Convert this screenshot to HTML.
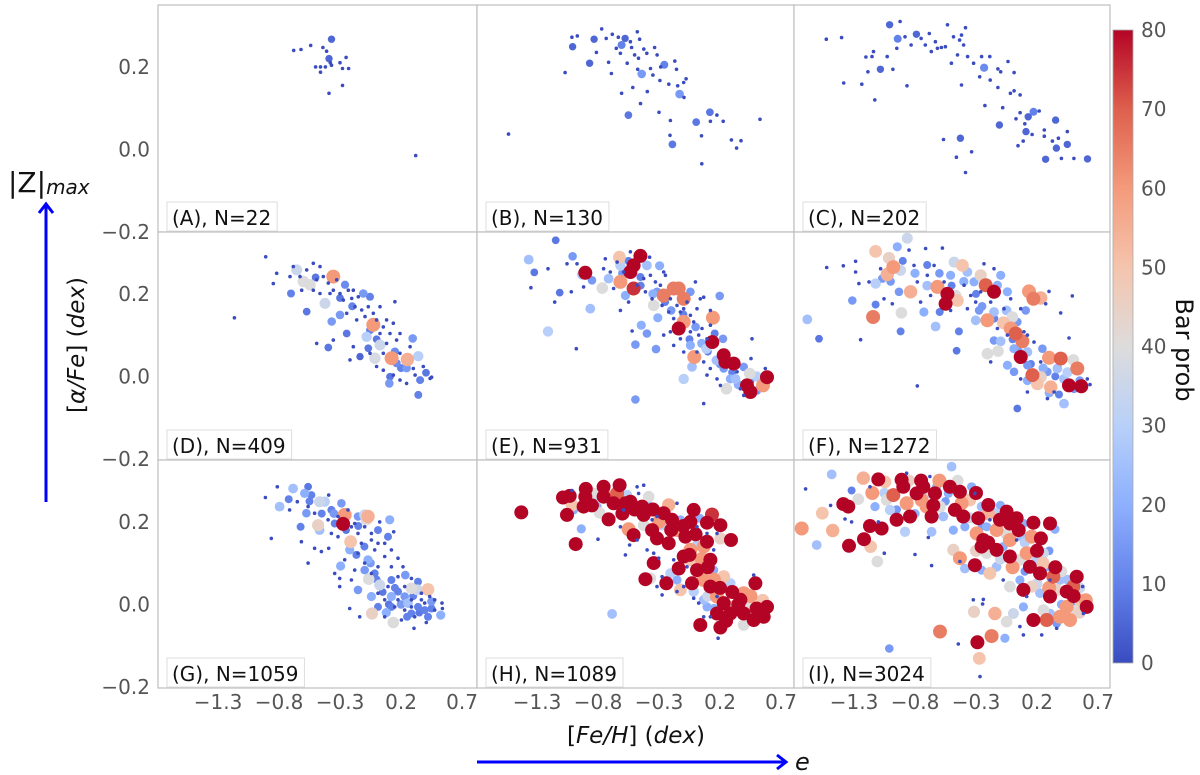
<!DOCTYPE html>
<html><head><meta charset="utf-8">
<style>
html,body{margin:0;padding:0;background:#fff;}
svg{display:block;font-family:"DejaVu Sans","Liberation Sans",sans-serif;}
.tick{fill:#555;font-size:20px;}
</style></head>
<body>
<svg id="fig" width="1200" height="775" viewBox="0 0 1200 775" xmlns="http://www.w3.org/2000/svg">
<defs>
<linearGradient id="cmap" x1="0" y1="1" x2="0" y2="0">
<stop offset="0" stop-color="rgb(58,76,192)"/>
<stop offset="0.125" stop-color="rgb(98,130,234)"/>
<stop offset="0.25" stop-color="rgb(141,176,254)"/>
<stop offset="0.375" stop-color="rgb(184,208,249)"/>
<stop offset="0.5" stop-color="rgb(221,220,220)"/>
<stop offset="0.625" stop-color="rgb(245,196,173)"/>
<stop offset="0.75" stop-color="rgb(244,154,123)"/>
<stop offset="0.875" stop-color="rgb(222,96,77)"/>
<stop offset="1" stop-color="rgb(180,4,38)"/>
</linearGradient>
</defs>
<g id="panels"></g>
<g id="axes"></g>
<g>
<rect x="1113" y="30" width="20" height="633" fill="url(#cmap)" stroke="#aaa" stroke-width="0.8"/>
<g id="cbticks"></g>
<text transform="translate(1176,350) rotate(90)" text-anchor="middle" font-size="24" fill="#111">Bar prob</text>
</g>
<text x="636" y="743" text-anchor="middle" font-size="23" fill="#111">[<tspan font-style="italic">Fe/H</tspan>] (<tspan font-style="italic">dex</tspan>)</text>
<text transform="translate(84,345) rotate(-90)" text-anchor="middle" font-size="23" fill="#111">[<tspan font-style="italic">α/Fe</tspan>] (<tspan font-style="italic">dex</tspan>)</text>
<g>
<line x1="477" y1="762" x2="784" y2="762" stroke="#0000ff" stroke-width="3"/>
<polyline points="777,755 786,762 777,769" fill="none" stroke="#0000ff" stroke-width="3"/>
<text x="795" y="770" font-size="24" font-style="italic" fill="#111">e</text>
</g>
<g>
<line x1="46" y1="502" x2="46" y2="206" stroke="#0000ff" stroke-width="3"/>
<polyline points="39,213 46,204 53,213" fill="none" stroke="#0000ff" stroke-width="3"/>
<text x="8" y="192" font-size="28" fill="#111">|Z|<tspan font-size="20" font-style="italic" dy="2">max</tspan></text>
</g>
</svg>
<script>
const xTickValues = [-1.3, -0.8, -0.3, 0.2, 0.7];
const xTickLabels = ["\u22121.3", "\u22120.8", "\u22120.3", "0.2", "0.7"];
const yTickValues = [0.2, 0.0, -0.2];
const yTickLabels = ["0.2", "0.0", "\u22120.2"];
const cbTickValues = [0, 10, 20, 30, 40, 50, 60, 70, 80];
const panelTitles = ["(A), N=22","(B), N=130","(C), N=202","(D), N=409","(E), N=931","(F), N=1272","(G), N=1059","(H), N=1089","(I), N=3024"];

const pointsA = [[-0.37,0.267,5],[-0.68,0.24,0],[-0.62,0.242,0],[-0.54,0.252,0],[-0.44,0.247,0],[-0.41,0.238,0],[-0.39,0.22,5],[-0.38,0.21,0],[-0.30,0.21,0],[-0.25,0.223,0],[-0.50,0.20,0],[-0.46,0.20,0],[-0.46,0.187,0],[-0.42,0.20,0],[-0.37,0.204,0],[-0.28,0.196,0],[-0.23,0.196,0],[-0.28,0.155,0],[-0.39,0.136,0],[0.32,-0.015,0]];

const pointsB = [[-1.008,0.249,5],[-0.97,0.275,0],[-1.014,0.272,0],[-1.07,0.186,0],[-1.534,0.037,0],[-0.869,0.209,5],[-0.832,0.267,5],[-0.77,0.292,0],[-0.813,0.235,0],[-0.713,0.211,0],[-0.69,0.184,0],[-0.607,0.253,10],[-0.578,0.269,5],[-0.634,0.272,0],[-0.683,0.279,0],[-0.617,0.233,0],[-0.561,0.209,0],[-0.525,0.247,0],[-0.478,0.285,0],[-0.459,0.267,0],[-0.425,0.243,0],[-0.468,0.221,0],[-0.442,0.183,15],[-0.475,0.194,0],[-0.35,0.18,0],[-0.336,0.247,0],[-0.316,0.229,0],[-0.257,0.205,10],[-0.171,0.214,0],[-0.157,0.194,0],[-0.515,0.15,0],[-0.607,0.136,0],[-0.396,0.14,0],[-0.452,0.111,0],[-0.293,0.167,0],[-0.22,0.158,0],[-0.147,0.154,0],[-0.098,0.162,0],[-0.078,0.171,0],[-0.131,0.134,15],[-0.095,0.126,0],[-0.551,0.083,8],[-0.3,0.09,0],[-0.207,0.07,0],[-0.21,0.034,0],[-0.19,0.012,8],[0.005,0.066,8],[0.117,0.09,8],[0.174,0.083,0],[0.121,0.068,0],[0.226,0.068,0],[0.048,0.033,0],[0.051,-0.035,0],[0.293,0.023,0],[0.372,0.021,0],[0.336,0.003,0],[0.528,0.073,0],[-0.733,0.269,0],[-0.65,0.245,0],[-0.5,0.229,0],[-0.40,0.233,0],[-0.37,0.196,0],[-0.286,0.2,0],[-0.535,0.261,0]];

const pointsC = [[-1.527,0.267,0],[-1.402,0.271,0],[-1.385,0.161,0],[-1.236,0.158,0],[-1.13,0.12,0],[-1.203,0.224,0],[-1.153,0.225,0],[-1.14,0.237,0],[-1.186,0.188,0],[-1.084,0.194,5],[-1.028,0.225,0],[-0.981,0.194,0],[-1.008,0.302,5],[-0.922,0.31,0],[-0.942,0.268,10],[-0.949,0.245,0],[-0.866,0.154,0],[-0.789,0.279,5],[-0.75,0.269,0],[-0.716,0.253,0],[-0.683,0.281,0],[-0.633,0.261,0],[-0.584,0.247,0],[-0.534,0.302,0],[-0.551,0.249,0],[-0.485,0.273,0],[-0.419,0.277,0],[-0.386,0.295,0],[-0.402,0.253,0],[-0.452,0.229,0],[-0.502,0.209,0],[-0.369,0.225,0],[-0.32,0.209,0],[-0.254,0.225,0],[-0.234,0.198,12],[-0.27,0.176,0],[-0.419,0.156,0],[-0.187,0.225,0],[-0.121,0.195,0],[-0.098,0.188,0],[-0.184,0.168,0],[-0.038,0.213,0],[0.012,0.186,0],[-0.121,0.15,0],[-0.018,0.136,0],[0.012,0.142,0],[0.061,0.132,0],[-0.227,0.106,0],[-0.081,0.101,0],[0.061,0.089,0],[0.128,0.079,5],[0.171,0.091,10],[0.218,0.093,0],[0.028,0.074,0],[0.1,0.062,0],[-0.108,0.059,5],[0.11,0.043,5],[0.16,0.036,0],[0.26,0.047,0],[0.352,0.071,5],[0.26,0.032,0],[0.326,0.02,0],[0.375,0.027,0],[0.448,0.043,0],[0.448,0.012,5],[0.359,0.003,5],[0.044,0.009,0],[0.087,0.02,0],[0.27,-0.024,5],[0.4,-0.022,0],[0.502,-0.022,0],[0.614,-0.023,5],[-0.567,0.024,0],[-0.428,0.027,5],[-0.461,-0.019,0],[-0.336,-0.006,0],[-0.386,-0.056,0],[-0.882,0.273,0],[-0.832,0.253,0],[-0.667,0.237,0],[-0.617,0.245,0],[-0.435,0.265,0]];

const pointsD = [[-1.166,0.142,0],[-0.909,0.29,0],[-0.819,0.25,0],[-0.847,0.225,0],[-0.702,0.201,10],[-0.655,0.258,35],[-0.6,0.23,40],[-0.546,0.222,40],[-0.573,0.157,8],[-0.464,0.201,0],[-0.355,0.242,60],[-0.259,0.222,12],[-0.423,0.177,35],[-0.368,0.133,15],[-0.3,0.149,15],[-0.245,0.104,8],[-0.191,0.209,0],[-0.109,0.201,15],[-0.054,0.193,10],[-0.082,0.096,30],[-0.027,0.125,60],[-0.054,0.112,10],[0.028,0.076,35],[-0.014,0.044,38],[-0.068,0.068,8],[-0.136,0.048,5],[-0.396,0.07,8],[0.055,0.056,0],[0.123,0.044,60],[0.15,0.06,12],[0.164,0.032,12],[0.252,0.041,55],[0.296,0.092,15],[0.342,0.049,30],[0.246,0.02,15],[0.315,0.003,0],[0.356,-0.009,10],[0.405,0.009,8],[0.451,-0.002,0],[0.104,-0.017,15],[0.11,-0.001,8],[0.342,-0.045,10],
[-0.5,0.24,8],[-0.3,0.19,8],[-0.2,0.17,10],[0.0,0.09,8],[0.2,0.02,10],
[-0.683,0.266,0],[-0.628,0.242,0],[-0.573,0.258,0],[-0.519,0.274,0],[-0.491,0.234,0],[-0.464,0.266,0],[-0.437,0.242,0],[-0.396,0.226,0],[-0.355,0.209,0],[-0.327,0.234,0],[-0.3,0.201,0],[-0.273,0.185,0],[-0.232,0.209,0],[-0.204,0.189,0],[-0.177,0.169,0],[-0.15,0.193,0],[-0.122,0.161,0],[-0.095,0.145,0],[-0.068,0.169,0],[-0.027,0.153,0],[0.0,0.137,0],[0.028,0.169,0],[0.055,0.12,0],[0.082,0.137,0],[0.11,0.104,0],[0.137,0.129,0],[0.164,0.088,0],[0.192,0.104,0],[0.082,0.08,0],[0.0,0.024,0],[0.055,0.015,0],[0.137,0.003,0],[0.192,-0.009,0],[0.246,-0.017,0],[0.301,0.019,0],[0.383,0.024,0],[0.438,-0.005,0],[-0.218,0.04,0],[-0.191,0.072,0],[-0.355,0.088,0],[-0.491,0.08,0],[-0.163,0.137,0],[-0.245,0.153,0],[-0.382,0.201,0],[-0.519,0.209,0],[-0.614,0.209,0],[-0.71,0.242,0],[-0.054,0.056,0],[0.028,0.104,0],[0.15,0.181,0],[0.192,0.056,0],[0.274,0.072,0]];

const pointsE = [[-1.147,0.33,8],[-1.368,0.283,25],[-1.322,0.252,8],[-1.008,0.291,15],[-1.114,0.203,8],[-1.21,0.109,30],[-0.978,0.067,0],[-0.904,0.251,80],[-0.931,0.247,30],[-0.849,0.233,15],[-0.863,0.164,25],[-0.765,0.214,40],[-0.713,0.237,25],[-0.625,0.289,50],[-0.617,0.269,30],[-0.535,0.253,80],[-0.508,0.269,80],[-0.453,0.292,80],[-0.617,0.229,60],[-0.508,0.213,75],[-0.576,0.196,20],[-0.399,0.269,25],[-0.295,0.268,20],[-0.453,0.241,10],[-0.344,0.172,40],[-0.317,0.205,15],[-0.262,0.196,65],[-0.18,0.213,65],[-0.139,0.213,65],[-0.098,0.188,65],[-0.043,0.205,15],[-0.31,0.142,20],[-0.445,0.124,20],[-0.399,0.104,15],[-0.494,0.077,15],[-0.325,0.066,15],[-0.098,0.132,60],[-0.139,0.116,80],[0.142,0.142,60],[0.197,0.195,15],[0.156,0.104,10],[0.137,0.083,80],[0.224,0.091,15],[0.088,0.067,30],[-0.011,0.047,60],[-0.043,0.075,20],[0.23,0.051,80],[0.244,0.035,80],[0.17,0.039,25],[0.312,0.031,80],[-0.03,0.023,25],[-0.098,-0.006,30],[0.23,0.019,15],[0.285,-0.006,20],[0.394,0.023,15],[0.443,0.007,40],[0.421,-0.022,80],[0.449,-0.038,80],[0.585,-0.002,80],[0.552,-0.022,60],[0.503,-0.034,15],[0.252,-0.03,40],[0.326,-0.006,25],[-0.494,-0.056,15],
[-0.6,0.25,15],[-0.45,0.22,10],[-0.35,0.2,20],[-0.25,0.18,10],[-0.2,0.16,15],[-0.1,0.15,10],[0.0,0.12,15],[-0.05,0.09,10],[0.05,0.08,20],[0.1,0.06,10],[0.2,0.03,15],[0.3,0.01,10],[0.35,-0.02,20],[0.45,-0.01,10],[0.5,0.0,30],[-0.55,0.28,10],
[-1.35,0.215,0],[-1.21,0.261,0],[-1.054,0.273,0],[-1.019,0.205,0],[-0.972,0.273,0],[-1.155,0.18,0],[-0.918,0.217,0],[-0.74,0.285,0],[-0.754,0.261,0],[-0.699,0.253,0],[-0.672,0.213,0],[-0.644,0.277,0],[-0.59,0.253,0],[-0.549,0.18,0],[-0.617,0.16,0],[-0.48,0.221,0],[-0.426,0.237,0],[-0.412,0.205,0],[-0.371,0.245,0],[-0.357,0.188,0],[-0.33,0.229,0],[-0.289,0.221,0],[-0.275,0.172,0],[-0.248,0.245,0],[-0.221,0.156,0],[-0.207,0.188,0],[-0.18,0.14,0],[-0.153,0.172,0],[-0.125,0.156,0],[-0.098,0.164,0],[-0.071,0.18,0],[-0.043,0.148,0],[-0.016,0.132,0],[0.011,0.164,0],[0.038,0.188,0],[0.052,0.116,0],[0.025,0.1,0],[0.093,0.091,0],[0.121,0.124,0],[-0.043,0.108,0],[-0.125,0.091,0],[-0.207,0.108,0],[-0.262,0.1,0],[-0.18,0.075,0],[-0.098,0.059,0],[0.011,0.059,0],[0.066,0.035,0],[0.12,0.019,0],[0.093,0.003,0],[0.175,-0.006,0],[0.203,-0.022,0],[0.34,0.011,0],[0.367,-0.03,0],[0.394,-0.046,0],[0.066,-0.066,0],[0.462,0.091,0],[0.454,0.043,0],[0.571,0.019,0],[-0.521,0.11,0],[-0.377,0.289,0],[-0.535,0.302,0],[-0.262,0.253,0],[-0.002,0.229,0],[0.121,0.16,0],[0.066,0.192,0]];

const pointsF = [[-1.683,0.138,25],[-1.587,0.091,8],[-1.314,0.184,15],[-1.144,0.144,65],[-1.123,0.303,50],[-1.013,0.287,45],[-0.945,0.314,20],[-0.863,0.335,35],[-0.978,0.265,60],[-0.918,0.257,35],[-1.027,0.247,55],[-1.123,0.225,30],[-1.068,0.237,15],[-0.931,0.205,15],[-0.912,0.154,40],[-0.836,0.205,55],[-0.918,0.109,10],[-1.123,0.174,10],[-0.727,0.156,20],[-0.631,0.121,25],[-0.598,0.156,10],[-0.617,0.217,60],[-0.549,0.176,80],[-0.535,0.2,80],[-0.467,0.196,40],[-0.453,0.184,50],[-0.44,0.109,10],[-0.459,0.062,8],[-0.508,0.245,20],[-0.412,0.269,50],[-0.48,0.277,35],[-0.371,0.253,25],[-0.317,0.229,20],[-0.262,0.245,45],[-0.221,0.221,70],[-0.153,0.205,80],[-0.125,0.221,20],[-0.098,0.245,20],[-0.043,0.205,20],[-0.207,0.136,60],[-0.303,0.136,25],[-0.275,0.16,15],[-0.153,0.156,25],[-0.076,0.13,50],[-0.002,0.144,40],[0.038,0.132,15],[-0.016,0.116,60],[0.025,0.104,70],[0.08,0.085,65],[-0.098,0.085,25],[-0.153,0.087,15],[-0.12,0.061,40],[0.011,0.067,20],[0.066,0.047,80],[0.121,0.059,25],[-0.043,0.027,20],[0.011,0.011,15],[0.121,0.027,15],[0.134,0.206,60],[0.17,0.188,65],[0.23,0.19,55],[0.107,0.16,15],[0.244,0.067,15],[0.298,0.045,60],[0.394,0.043,70],[0.498,0.04,40],[0.53,0.019,65],[0.367,0.019,25],[0.285,0.011,15],[0.162,0.003,70],[0.23,-0.002,45],[0.121,-0.01,20],[0.203,-0.018,50],[0.312,-0.026,55],[0.421,-0.006,25],[0.462,-0.022,80],[0.563,-0.024,80],[0.503,-0.03,15],[0.38,-0.044,10],[0.421,-0.066,25],[0.038,-0.078,8],[-0.207,0.055,40],
[-1.0,0.23,15],[-0.9,0.28,10],[-0.8,0.25,20],[-0.7,0.27,10],[-0.6,0.25,15],[-0.5,0.22,10],[-0.4,0.23,20],[-0.3,0.2,10],[-0.25,0.17,15],[-0.15,0.14,10],[-0.05,0.16,25],[0.0,0.09,10],[0.05,0.06,15],[0.15,0.03,10],[0.25,0.02,20],[0.35,0.0,10],[0.45,0.01,30],[0.55,-0.01,15],[0.3,-0.04,20],[-0.7,0.22,25],
[-1.524,0.264,0],[-1.388,0.268,0],[-1.287,0.279,0],[-1.287,0.253,0],[-1.26,0.225,0],[-1.246,0.089,0],[-1.177,0.229,0],[-1.082,0.261,0],[-1.054,0.188,0],[-0.986,0.176,0],[-0.849,0.306,0],[-0.808,0.269,0],[-0.781,0.229,0],[-0.754,0.18,0],[-0.713,0.31,0],[-0.699,0.245,0],[-0.672,0.196,0],[-0.644,0.269,0],[-0.576,0.311,0],[-0.562,0.229,0],[-0.508,0.16,0],[-0.398,0.221,0],[-0.371,0.164,0],[-0.344,0.196,0],[-0.303,0.18,0],[-0.262,0.205,0],[-0.235,0.273,0],[-0.18,0.18,0],[-0.153,0.261,0],[-0.125,0.116,0],[-0.071,0.164,0],[-0.043,0.1,0],[-0.016,0.188,0],[0.066,0.164,0],[0.093,0.108,0],[0.121,0.1,0],[0.175,0.083,0],[0.23,0.035,0],[0.298,0.206,0],[0.271,0.176,0],[0.394,0.154,0],[0.489,0.195,0],[0.462,0.093,0],[0.34,-0.038,0],[0.612,-0.006,0],[0.634,-0.02,0],[-0.781,-0.023,0],[-0.18,0.035,0],[0.066,-0.006,0],[0.121,-0.038,0],[0.285,-0.054,0]];

const pointsG = [[-0.685,0.281,25],[-0.795,0.237,25],[-0.59,0.269,20],[-0.721,0.255,10],[-0.562,0.285,8],[-0.535,0.265,10],[-0.467,0.249,35],[-0.426,0.249,30],[-0.576,0.221,15],[-0.48,0.192,45],[-0.467,0.18,25],[-0.623,0.188,10],[-0.371,0.229,10],[-0.289,0.245,15],[-0.262,0.217,60],[-0.275,0.195,80],[-0.344,0.196,10],[-0.153,0.213,15],[-0.098,0.217,35],[-0.084,0.205,40],[-0.071,0.213,55],[0.107,0.205,20],[0.011,0.18,10],[0.093,0.164,10],[-0.213,0.152,50],[-0.221,0.132,20],[-0.166,0.12,10],[-0.071,0.108,20],[-0.098,0.083,15],[-0.295,0.093,20],[-0.065,0.061,40],[0.025,0.047,35],[-0.016,0.075,10],[-0.153,0.035,15],[-0.043,0.019,20],[0.121,0.059,10],[0.235,0.071,15],[0.339,0.055,10],[0.421,0.036,50],[0.285,0.039,40],[0.334,0.035,35],[0.121,0.019,20],[0.23,0.019,15],[0.121,-0.006,10],[0.079,-0.02,20],[-0.038,-0.022,45],[0.137,-0.044,40],[0.257,0.003,25],[0.339,-0.006,10],[0.449,0.007,15],[0.525,-0.026,20],[0.394,-0.014,10],[0.421,-0.03,10],[0.285,-0.022,10],[0.011,-0.006,10],[0.175,0.031,10],
[-0.55,0.25,10],[-0.45,0.22,10],[-0.35,0.22,15],[-0.25,0.18,8],[-0.15,0.19,10],[-0.1,0.14,10],[-0.05,0.1,15],[0.0,0.06,10],[0.05,0.03,8],[0.15,0.04,10],[0.2,0.0,15],[0.3,0.02,10],[0.35,-0.02,8],[0.45,-0.01,10],[0.25,-0.03,10],[0.1,0.0,8],
[-0.912,0.259,0],[-0.814,0.285,0],[-0.863,0.16,0],[-0.713,0.229,0],[-0.65,0.249,0],[-0.617,0.152,0],[-0.562,0.1,0],[-0.508,0.136,0],[-0.453,0.128,0],[-0.393,0.265,0],[-0.393,0.136,0],[-0.371,0.172,0],[-0.317,0.164,0],[-0.303,0.063,0],[-0.303,0.043,0],[-0.221,-0.01,0],[-0.139,-0.03,0],[-0.207,0.188,0],[-0.153,0.172,0],[-0.125,0.148,0],[-0.043,0.156,0],[-0.016,0.132,0],[0.025,0.2,0],[0.066,0.116,0],[0.121,0.091,0],[0.14,0.176,0],[0.175,0.112,0],[0.216,0.091,0],[0.093,0.043,0],[0.175,0.011,0],[0.203,-0.038,0],[0.306,-0.058,0],[0.407,-0.044,0],[0.476,0.011,0],[0.539,-0.01,0],[0.536,0.003,0],[0.285,-0.006,0],[0.367,0.011,0],[0.435,0.019,0],[0.066,-0.03,0],[-0.262,0.108,0],[-0.18,0.083,0],[-0.098,0.1,0],[-0.207,0.059,0],[-0.344,0.075,0],[0.011,0.091,0],[0.121,0.132,0],[0.23,0.043,0],[0.285,0.011,0],[0.367,0.027,0],[0.23,-0.014,0],[0.148,-0.006,0],[-0.562,0.237,0],[-0.508,0.221,0],[-0.398,0.205,0],[-0.317,0.213,0],[-0.235,0.229,0],[-0.18,0.196,0],[-0.098,0.188,0],[-0.043,0.172,0],[0.011,0.148,0],[0.066,0.148,0],[-0.153,0.124,0],[-0.043,0.075,0],[0.011,0.027,0],[0.066,0.011,0],[0.175,0.067,0],[0.285,0.063,0],[0.394,0.003,0],[0.312,-0.03,0],[0.476,-0.014,0]];

const pointsH = [[-1.429,0.223,80],[-1.087,0.259,80],[-1.032,0.263,80],[-1.054,0.217,80],[-1.013,0.241,50],[-0.983,0.146,80],[-0.937,0.183,20],[-0.999,0.229,20],[-0.904,0.261,80],[-0.918,0.237,80],[-0.849,0.253,25],[-0.836,0.269,40],[-0.787,0.222,40],[-0.808,0.237,20],[-0.754,0.285,80],[-0.754,0.261,80],[-0.713,0.206,80],[-0.672,0.245,80],[-0.644,0.269,70],[-0.623,0.289,80],[-0.562,0.265,30],[-0.576,0.245,80],[-0.535,0.249,80],[-0.508,0.168,80],[-0.549,0.182,60],[-0.439,0.237,80],[-0.426,0.217,80],[-0.426,0.192,40],[-0.398,0.245,20],[-0.385,0.261,40],[-0.357,0.18,80],[-0.317,0.16,80],[-0.275,0.192,30],[-0.262,0.221,80],[-0.221,0.241,55],[-0.221,0.148,80],[-0.194,0.205,80],[-0.153,0.18,60],[-0.125,0.205,20],[-0.084,0.164,80],[-0.043,0.2,80],[-0.016,0.229,80],[0.033,0.209,20],[0.134,0.218,75],[0.203,0.192,80],[0.203,0.16,45],[0.29,0.156,80],[0.093,0.198,80],[0.011,0.144,30],[0.066,0.14,60],[0.093,0.152,80],[-0.043,0.132,60],[-0.098,0.116,80],[-0.139,0.087,80],[-0.043,0.108,50],[0.011,0.083,80],[0.121,0.108,80],[0.148,0.083,20],[-0.344,0.1,80],[-0.412,0.061,80],[-0.371,0.063,40],[-0.24,0.051,80],[-0.207,0.075,30],[-0.153,0.059,20],[-0.03,0.051,80],[0.066,0.059,60],[0.121,0.043,80],[0.23,0.067,50],[0.285,0.051,30],[-0.016,0.031,30],[0.066,0.011,25],[0.175,0.019,60],[0.23,0.003,80],[0.312,-0.006,55],[0.367,0.011,80],[0.394,0.027,60],[0.421,-0.006,40],[0.476,-0.006,30],[0.49,0.051,80],[0.53,-0.014,60],[0.585,-0.006,80],[0.558,-0.03,80],[0.476,-0.038,80],[0.394,-0.05,40],[0.285,-0.022,80],[0.244,-0.018,55],[0.093,-0.006,20],[0.038,-0.05,80],[0.203,-0.056,80],[-0.685,-0.023,25],[0.285,0.027,25],[0.175,-0.022,80],[-0.125,0.035,50],[0.394,-0.022,80],
[-0.9,0.28,80],[-0.85,0.24,80],[-0.7,0.26,55],[-0.6,0.22,80],[-0.5,0.23,80],[-0.35,0.23,80],[-0.3,0.2,60],[-0.2,0.18,80],[-0.1,0.19,80],[0.0,0.17,80],[-0.05,0.12,80],[0.05,0.11,60],[0.1,0.09,80],[0.15,0.06,60],[0.2,0.04,80],[0.3,0.03,80],[0.35,0.0,80],[0.45,0.02,60],[0.5,-0.01,80],[0.55,0.01,50],[0.25,-0.04,80],[0.1,0.02,35],[0.15,-0.01,20],
[-1.013,0.276,0],[-0.8,0.158,0],[-0.617,0.188,0],[-0.59,0.229,0],[-0.576,0.12,0],[-0.541,0.144,0],[-0.48,0.285,0],[-0.426,0.289,0],[-0.467,0.269,0],[-0.48,0.156,0],[-0.398,0.132,0],[-0.344,0.124,0],[-0.303,0.112,0],[-0.275,0.067,0],[-0.317,0.043,0],[-0.275,0.023,0],[-0.153,0.245,0],[-0.18,0.108,0],[-0.153,0.031,0],[-0.098,0.043,0],[-0.071,0.091,0],[-0.016,0.015,0],[0.025,0.003,0],[0.066,-0.03,0],[0.121,-0.03,0],[0.175,0.019,0],[0.184,-0.082,0],[0.476,0.071,0],[0.148,0.132,0],[0.175,0.172,0],[0.093,0.172,0],[0.011,0.188,0],[-0.317,0.213,0],[-0.357,0.205,0]];

const pointsI = [[-1.729,0.184,60],[-1.606,0.144,25],[-1.56,0.221,50],[-1.483,0.315,25],[-1.475,0.179,55],[-1.388,0.243,80],[-1.347,0.237,80],[-1.341,0.142,80],[-1.32,0.276,10],[-1.265,0.255,40],[-1.224,0.306,55],[-1.218,0.158,80],[-1.169,0.19,80],[-1.164,0.14,50],[-1.128,0.237,20],[-1.109,0.104,40],[-1.101,0.303,80],[-1.074,0.184,80],[-1.047,0.297,50],[-1.033,0.253,40],[-1.005,0.229,30],[-0.978,0.265,70],[-0.951,0.205,80],[-0.91,0.302,80],[-0.896,0.285,80],[-0.869,0.245,60],[-0.841,0.213,80],[-0.882,0.176,30],[-0.787,0.269,80],[-0.746,0.253,60],[-0.732,0.285,80],[-0.705,0.237,60],[-0.664,0.213,80],[-0.664,0.176,25],[-0.636,0.269,80],[-0.623,0.285,20],[-0.595,0.237,40],[-0.568,0.213,25],[-0.527,0.269,20],[-0.514,0.285,80],[-0.5,0.334,25],[-0.486,0.18,20],[-0.473,0.229,80],[-0.432,0.273,80],[-0.418,0.245,60],[-0.404,0.213,80],[-0.391,0.188,20],[-0.486,0.132,45],[-0.432,0.112,60],[-0.35,0.253,50],[-0.336,0.285,20],[-0.281,0.209,80],[-0.254,0.237,25],[-0.295,0.172,60],[-0.24,0.156,80],[-0.213,0.188,20],[-0.199,0.241,80],[-0.145,0.221,30],[-0.131,0.18,60],[-0.104,0.205,80],[-0.049,0.225,80],[-0.022,0.196,80],[0.033,0.209,80],[0.088,0.196,20],[0.17,0.198,80],[0.306,0.196,80],[0.347,0.182,20],[0.232,0.16,80],[0.156,0.164,60],[0.074,0.164,25],[-0.022,0.156,60],[-0.077,0.14,20],[-0.131,0.132,80],[-0.213,0.124,40],[-0.254,0.14,80],[-0.309,0.095,80],[-0.391,0.087,25],[-0.254,0.083,20],[-0.186,0.075,50],[-0.131,0.091,25],[-0.022,0.116,80],[0.06,0.108,40],[0.115,0.124,60],[0.197,0.108,30],[0.252,0.124,35],[0.142,0.091,80],[0.224,0.075,80],[0.279,0.091,20],[0.333,0.067,70],[0.388,0.059,25],[0.06,0.059,20],[-0.022,0.043,40],[0.088,0.035,80],[0.156,0.043,45],[0.224,0.027,25],[0.306,0.019,80],[0.361,0.035,45],[0.443,0.031,80],[0.525,0.067,80],[0.497,0.043,70],[0.552,0.011,50],[0.607,-0.006,80],[0.62,-0.002,20],[0.525,-0.014,40],[0.443,-0.006,60],[0.388,-0.03,60],[0.306,-0.022,25],[0.252,-0.014,40],[0.17,-0.038,80],[0.088,-0.006,20],[0.006,-0.022,35],[-0.049,-0.042,40],[-0.063,-0.082,20],[-0.145,-0.022,55],[-0.317,-0.018,45],[-0.595,-0.066,65],[-0.289,-0.092,80],[-0.172,-0.077,65],[-0.273,-0.131,50],[-1.011,-0.107,15],[0.279,-0.038,70],[0.47,-0.038,60],[0.361,-0.046,15],
[-1.15,0.27,60],[-1.05,0.27,30],[-0.95,0.23,15],[-0.85,0.3,45],[-0.8,0.22,20],[-0.75,0.3,80],[-0.7,0.27,35],[-0.65,0.24,80],[-0.6,0.3,60],[-0.55,0.25,15],[-0.45,0.3,40],[-0.4,0.26,25],[-0.3,0.27,80],[-0.35,0.21,35],[-0.25,0.19,15],[-0.2,0.22,55],[-0.1,0.24,20],[-0.05,0.17,40],[0.0,0.21,25],[0.05,0.18,80],[0.1,0.15,30],[0.2,0.13,80],[0.25,0.1,50],[0.3,0.13,15],[0.35,0.09,80],[0.4,0.08,40],[0.45,0.06,25],[0.5,0.02,80],[0.55,0.04,35],[0.6,0.01,60],[0.4,0.0,20],[0.3,0.04,60],[0.2,0.05,35],[0.1,0.08,15],[0.0,0.09,60],[-0.1,0.11,35],[-0.2,0.15,80],[-0.3,0.13,45],[0.48,0.0,15],[0.55,-0.02,45],
[-1.697,0.28,0],[-1.492,0.24,0],[-1.374,0.207,0],[-1.32,0.2,0],[-1.169,0.285,0],[-1.101,0.2,0],[-1.052,0.124,0],[-0.8,0.121,0],[-0.691,0.162,0],[-0.664,0.094,0],[-0.432,0.104,0],[-0.322,0.011,0],[-0.246,0.001,0],[-0.24,0.012,0],[-0.445,-0.096,0],[-0.267,-0.175,0],[0.06,-0.054,0],[0.088,-0.074,0],[0.238,-0.074,0],[0.361,-0.058,0],[0.574,0.043,0],[0.58,-0.022,0],[-0.869,0.318,0],[-0.678,0.31,0],[-0.309,0.269,0],[-0.186,0.205,0],[0.033,0.156,0],[-0.077,0.059,0],[0.115,0.019,0],[0.306,0.059,0]];

const panelPoints = [pointsA,pointsB,pointsC,pointsD,pointsE,pointsF,pointsG,pointsH,pointsI];

const NS = "http://www.w3.org/2000/svg";
const colLeft = [158, 477, 794];
const colWidth = [319, 317, 316];
const rowTop = [5, 232, 460];
const rowHeight = [227, 228, 228];
const X_MIN = -1.792, PX_PER_X = 122, Y_MAX = 0.35, PX_PER_Y = 412.5;
function xScale(col, v){ return colLeft[col] + (v - X_MIN) * PX_PER_X; }
function yScale(row, v){ return rowTop[row] + (Y_MAX - v) * PX_PER_Y; }
const cmapStops = [[58,76,192],[98,130,234],[141,176,254],[184,208,249],[221,220,220],[245,196,173],[244,154,123],[222,96,77],[180,4,38]];
function colorFor(p){
  let t = Math.max(0, Math.min(1, p/80)) * (cmapStops.length-1);
  let i = Math.min(cmapStops.length-2, Math.floor(t)), f = t - i;
  const a = cmapStops[i], b = cmapStops[i+1];
  return "rgb(" + [0,1,2].map(k => Math.round(a[k] + (b[k]-a[k])*f)).join(",") + ")";
}
function radiusFor(p){ return p < 2 ? 1.8 : Math.min(7, 3.4 + p*0.06); }

const panelsG = document.getElementById("panels");
const letters = "abcdefghi";
for (let idx = 0; idx < 9; idx++){
  const row = Math.floor(idx/3), col = idx % 3;
  const g = document.createElementNS(NS, "g");
  
  
  const bg = document.createElementNS(NS, "rect");
  bg.setAttribute("x", colLeft[col]); bg.setAttribute("y", rowTop[row]);
  bg.setAttribute("width", colWidth[col]); bg.setAttribute("height", rowHeight[row]);
  bg.setAttribute("fill", "#fff"); bg.setAttribute("stroke", "#bdbdbd"); bg.setAttribute("stroke-width", "1.2");
  
  
  g.appendChild(bg);
  const pts = panelPoints[idx].slice();
  const big = pts.filter(d => d[2] >= 2).sort((a,b) => a[2]-b[2]);
  const small = pts.filter(d => d[2] < 2);
  [...big, ...small].forEach(d => {
    const c = document.createElementNS(NS, "circle");
    c.setAttribute("cx", xScale(col, d[0]).toFixed(1));
    c.setAttribute("cy", yScale(row, d[1]).toFixed(1));
    c.setAttribute("r", radiusFor(d[2]));
    c.setAttribute("fill", colorFor(d[2]));
    
    
    g.appendChild(c);
  });
  const lbl = document.createElementNS(NS, "text");
  lbl.setAttribute("x", colLeft[col] + 14);
  lbl.setAttribute("y", rowTop[row] + rowHeight[row] - 7);
  lbl.setAttribute("font-size", "20"); lbl.setAttribute("fill", "#111");
  lbl.textContent = panelTitles[idx];
  
  
  const box = document.createElementNS(NS, "rect");
  box.setAttribute("x", colLeft[col] + 9); box.setAttribute("y", rowTop[row] + rowHeight[row] - 30);
  box.setAttribute("height", 29); box.setAttribute("fill", "#fff");
  box.setAttribute("stroke", "#ddd"); box.setAttribute("stroke-width", "1");
  
  
  g.appendChild(box); g.appendChild(lbl);
  panelsG.appendChild(g);
  box.setAttribute("width", lbl.getComputedTextLength() + 11);
}

const axesG = document.getElementById("axes");
for (let col = 0; col < 3; col++){
  xTickValues.forEach((v, i) => {
    const t = document.createElementNS(NS, "text");
    t.setAttribute("x", xScale(col, v)); t.setAttribute("y", 709);
    t.setAttribute("text-anchor", "middle"); t.setAttribute("class", "tick");
    t.textContent = xTickLabels[i];
    
    
    axesG.appendChild(t);
  });
}
for (let row = 0; row < 3; row++){
  yTickValues.forEach((v, i) => {
    const t = document.createElementNS(NS, "text");
    t.setAttribute("x", 150); t.setAttribute("y", yScale(row, v) + 7);
    t.setAttribute("text-anchor", "end"); t.setAttribute("class", "tick");
    t.textContent = yTickLabels[i];
    
    
    axesG.appendChild(t);
  });
}
const cbG = document.getElementById("cbticks");
cbTickValues.forEach(v => {
  const t = document.createElementNS(NS, "text");
  t.setAttribute("x", 1141); t.setAttribute("y", 663 - v/80*633 + 7);
  t.setAttribute("class", "tick");
  t.textContent = String(v);
  
  
  cbG.appendChild(t);
});
</script>
</body></html>
